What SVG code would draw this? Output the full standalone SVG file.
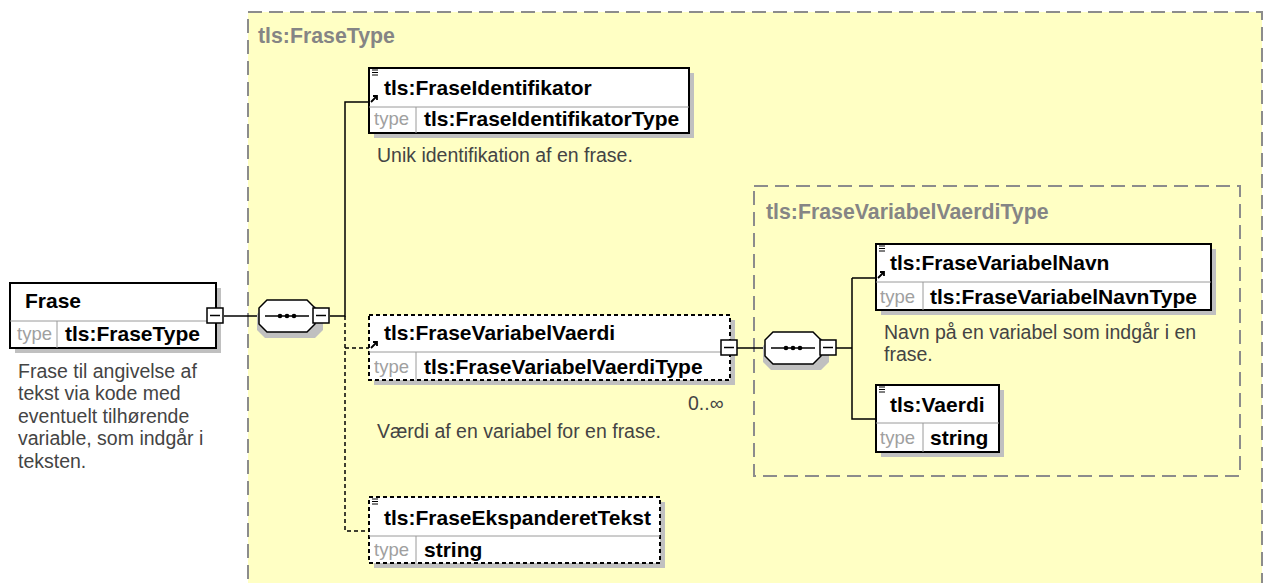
<svg xmlns="http://www.w3.org/2000/svg" width="1269" height="583" viewBox="0 0 1269 583">
<style>
.bg{fill:#fff}
.grp{fill:#FFFFC4;stroke:#8c8c8c;stroke-width:2;stroke-dasharray:14,7}
.igrp{fill:none;stroke:#8c8c8c;stroke-width:2;stroke-dasharray:14,7}
.ttl{font-family:"Liberation Sans",Arial,sans-serif;font-weight:bold;font-size:21.3px;fill:#858585}
.shadow{fill:#c0c0c0}
.box{fill:#fff;stroke:#000;stroke-width:2}
.dbox{fill:#fff;stroke:#000;stroke-width:2;stroke-dasharray:4,3}
.sep{stroke:#9a9a9a;stroke-width:1}
.nm{font-family:"Liberation Sans",Arial,sans-serif;font-weight:bold;font-size:21px;fill:#000}
.tl{font-family:"Liberation Sans",Arial,sans-serif;font-size:18.5px;fill:#a0a0a0}
.ds{font-family:"Liberation Sans",Arial,sans-serif;font-size:19.5px;fill:#444}
.ln{stroke:#000;stroke-width:1.5;fill:none}
.dln{stroke:#000;stroke-width:1.5;fill:none;stroke-dasharray:4,3}
.btn{fill:#fff;stroke:#000;stroke-width:1.5}
.oct{fill:#fff;stroke:#000;stroke-width:1.5}
</style>
<defs>
<g id="ann"><path d="M0,0h6M0,2.5h6M0,5h6" stroke="#000" stroke-width="1.2"/></g>
<g id="ref"><path d="M0,7L6,1M2,1h4v4" stroke="#000" stroke-width="1.8" fill="none"/></g>
<g id="minus"><rect class="btn" x="0" y="0" width="16" height="15"/><path d="M3,7.5h10" stroke="#000" stroke-width="1.5"/></g>
<g id="seq">
<path d="M6,6 l10,0 l40,0 l8,8 l0,16 l-8,8 l-50,0 l-8,-8 l0,-16 z" class="shadow"/>
<path d="M8,0 h40 l8,8 v16 l-8,8 h-40 l-8,-8 v-16 z" class="oct"/>
<path d="M6,16 h44" stroke="#000" stroke-width="1.5"/>
<circle cx="21" cy="16" r="2.3"/><circle cx="28" cy="16" r="2.3"/><circle cx="35" cy="16" r="2.3"/>
</g>
</defs>
<rect class="bg" x="0" y="0" width="1269" height="583"/>

<g id="FraseType-group">
<path class="grp" d="M248,600 V12 H1262 V600"/>
<text class="ttl" x="258" y="43">tls:FraseType</text>
</g>
<g id="FraseVariabelVaerdiType-group">
<rect class="igrp" x="754" y="186" width="486" height="290"/>
<text class="ttl" x="766" y="219">tls:FraseVariabelVaerdiType</text>
</g>

<g id="connectors">
<path class="ln" d="M224,316 H259"/>
<path class="ln" d="M330,316 H345 V102 H369"/>
<path class="dln" d="M345,316 V531 H369"/>
<path class="dln" d="M345,348 H369"/>
<path class="ln" d="M737,348 H765"/>
<path class="ln" d="M836,348 H852"/>
<path class="ln" d="M852,278 H876 M852,278 V419 H876"/>
</g>

<g id="Frase">
<rect class="shadow" x="15" y="288" width="206" height="65"/>
<rect class="box" x="10" y="283" width="206" height="65"/>
<path class="sep" d="M10,321 H216 M57,321 V348"/>
<text class="nm" x="25" y="308">Frase</text>
<text class="tl" x="17" y="340">type</text>
<text class="nm" x="65" y="341">tls:FraseType</text>
<use href="#minus" x="207" y="308"/>
<text class="ds" x="18" y="378">Frase til angivelse af</text>
<text class="ds" x="18" y="400">tekst via kode med</text>
<text class="ds" x="18" y="423">eventuelt tilhørende</text>
<text class="ds" x="18" y="445">variable, som indgår i</text>
<text class="ds" x="18" y="468">teksten.</text>
</g>

<g id="seq1">
<use href="#seq" x="259" y="300"/>
<use href="#minus" x="313" y="308"/>
</g>

<g id="FraseIdentifikator">
<rect class="shadow" x="374" y="73" width="320" height="65"/>
<rect class="box" x="369" y="68" width="320" height="65"/>
<path class="sep" d="M369,107 H689 M416,107 V133"/>
<use href="#ann" x="372" y="70"/>
<use href="#ref" x="371" y="95"/>
<text class="nm" x="384" y="95">tls:FraseIdentifikator</text>
<text class="tl" x="374" y="125">type</text>
<text class="nm" x="424" y="126">tls:FraseIdentifikatorType</text>
<text class="ds" x="377" y="162">Unik identifikation af en frase.</text>
</g>

<g id="FraseVariabelVaerdi">
<rect class="shadow" x="374" y="320" width="361" height="65"/>
<rect class="dbox" x="369" y="315" width="361" height="65"/>
<path class="sep" d="M369,352 H730 M416,352 V380"/>
<use href="#ref" x="371" y="341"/>
<text class="nm" x="384" y="340">tls:FraseVariabelVaerdi</text>
<text class="tl" x="374" y="373">type</text>
<text class="nm" x="424" y="374">tls:FraseVariabelVaerdiType</text>
<use href="#minus" x="721" y="340"/>
<text class="ds" x="688" y="410" font-size="18">0..∞</text>
<text class="ds" x="377" y="438">Værdi af en variabel for en frase.</text>
</g>

<g id="seq2">
<use href="#seq" x="765" y="332"/>
<use href="#minus" x="820" y="340"/>
</g>

<g id="FraseVariabelNavn">
<rect class="shadow" x="881" y="249" width="335" height="66"/>
<rect class="box" x="876" y="244" width="335" height="66"/>
<path class="sep" d="M876,282 H1211 M923,282 V310"/>
<use href="#ann" x="879" y="246"/>
<use href="#ref" x="878" y="271"/>
<text class="nm" x="890" y="270">tls:FraseVariabelNavn</text>
<text class="tl" x="880" y="303">type</text>
<text class="nm" x="930" y="304">tls:FraseVariabelNavnType</text>
<text class="ds" x="884" y="339">Navn på en variabel som indgår i en</text>
<text class="ds" x="884" y="361">frase.</text>
</g>

<g id="Vaerdi">
<rect class="shadow" x="881" y="390" width="123" height="67"/>
<rect class="box" x="876" y="385" width="123" height="67"/>
<path class="sep" d="M876,423 H999 M923,423 V452"/>
<use href="#ann" x="879" y="387"/>
<text class="nm" x="890" y="412">tls:Vaerdi</text>
<text class="tl" x="880" y="444">type</text>
<text class="nm" x="930" y="445">string</text>
</g>

<g id="FraseEkspanderetTekst">
<rect class="shadow" x="374" y="502" width="291" height="66"/>
<rect class="dbox" x="369" y="497" width="291" height="66"/>
<path class="sep" d="M369,536 H660 M416,536 V563"/>
<use href="#ann" x="372" y="499"/>
<text class="nm" x="384" y="525">tls:FraseEkspanderetTekst</text>
<text class="tl" x="374" y="556">type</text>
<text class="nm" x="424" y="557">string</text>
</g>
</svg>
